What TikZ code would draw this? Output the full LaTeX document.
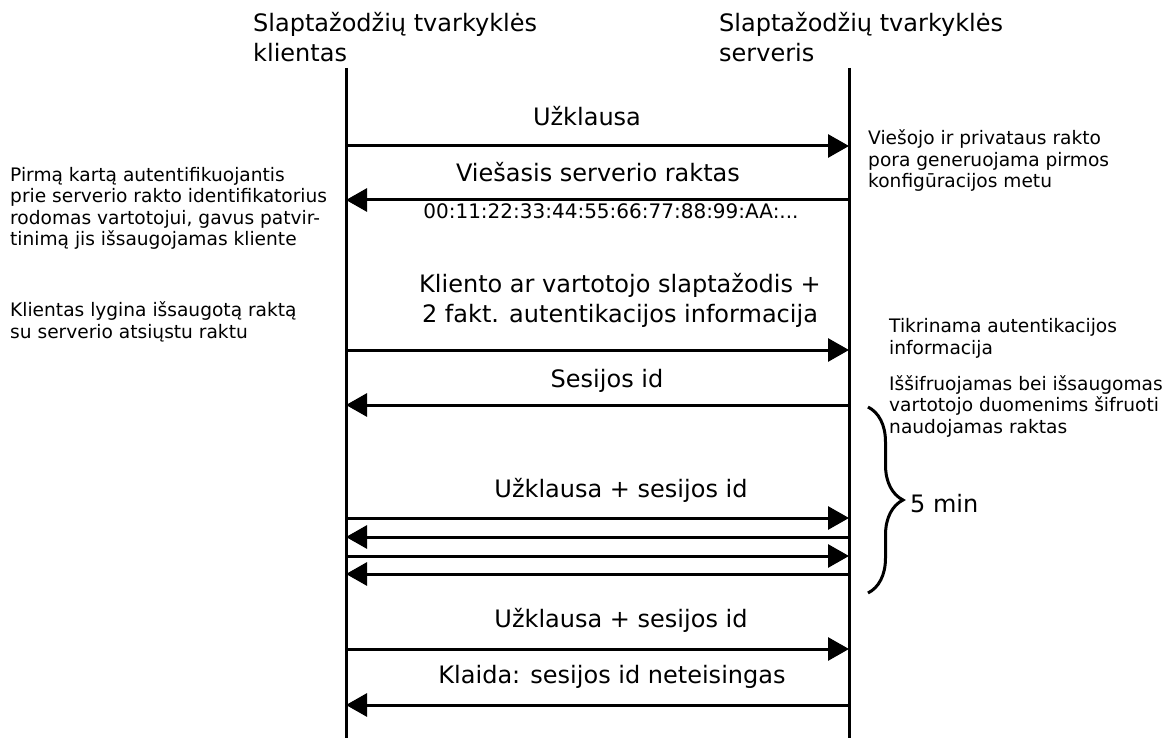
\documentclass[tikz,border=0pt]{standalone}
\usepackage{fontspec}
\setmainfont{DejaVu Sans}
\usepackage{tikz}
\usetikzlibrary{positioning}
\usetikzlibrary{arrows.meta,decorations.pathreplacing}

\begin{document}
\begin{tikzpicture}[x=1pt,y=-1pt,
    life/.style={line width=3pt},
    msg/.style={line width=3pt,-{Triangle[length=21pt,width=23pt]}},
    big/.style={font=\fontsize{24}{30}\selectfont,inner sep=0pt,anchor=base},
    note/.style={font=\fontsize{18.6}{21.5}\selectfont,inner sep=0pt,anchor=base west,align=left},
    hex/.style={font=\fontsize{20}{24}\selectfont,inner sep=0pt,anchor=base}]

    \useasboundingbox (0,0) rectangle (1176,738);

		% lifelines
		\node[big][anchor=base west,align=left](kl) at (253,62) {Slaptažodžių tvarkyklės\\klientas};
		\node[big][anchor=base west,align=left](sv) at (719,62) {Slaptažodžių tvarkyklės\\serveris};
		\coordinate (ktop) at (346,68);
		\coordinate (kbot) at (346,738);
		\coordinate (stop) at (849,68);
		\coordinate (sbot) at (849,738);
		\draw[life] (ktop) -- (kbot);
		\draw[life] (stop) -- (sbot);

		\foreach \i/\y in {1/146,2/200,3/350,4/405,5/518,6/537,7/556,8/574,9/649,10/705}{
			\coordinate (k\i) at (346,\y);
			\coordinate (s\i) at (849,\y);
		}

		% messages
		\draw[msg] (k1) -- (s1);
		\draw[msg] (s2) -- (k2);
		\draw[msg] (k3) -- (s3);
		\draw[msg] (s4) -- (k4);
		\draw[msg] (k5) -- (s5);
		\draw[msg] (s6) -- (k6);
		\draw[msg] (k7) -- (s7);
		\draw[msg] (s8) -- (k8);
		\draw[msg] (k9) -- (s9);
		\draw[msg] (s10) -- (k10);

		\node[big](m1) at (587,126) {Užklausa};
		\node[big](m2) at (598,182) {Viešasis serverio raktas};
		\node[hex](m2b) at (611,219) {00:11:22:33:44:55:66:77:88:99:AA:...};
		\node[big][align=center](m3) at (620,323) {Kliento ar vartotojo slaptažodis +\\2 fakt. autentikacijos informacija};
		\node[big](m4) at (607,387) {Sesijos id};
		\node[big](m5) at (621,497) {Užklausa + sesijos id};
		\node[big](m9) at (621,627) {Užklausa + sesijos id};
		\node[big](m10) at (612,683) {Klaida: sesijos id neteisingas};

		% notes
		\node[note](n1) at (10,246) {Pirmą kartą autentifikuojantis\\prie serverio rakto identifikatorius\\rodomas vartotojui, gavus patvir-\\tinimą jis išsaugojamas kliente};
		\node[note](n2) at (10,338) {Klientas lygina išsaugotą raktą\\su serverio atsiųstu raktu};
		\node[note](n3) at (868,188) {Viešojo ir privataus rakto\\pora generuojama pirmos\\konfigūracijos metu};
		\node[note](n4) at (889,354) {Tikrinama autentikacijos\\informacija};
		\node[note](n5) at (889,433) {Iššifruojamas bei išsaugomas\\vartotojo duomenims šifruoti\\naudojamas raktas};

		% 5 min
		\coordinate (b1) at (868,407);
		\coordinate (b2) at (868,593);
		\draw[line width=3pt,decorate,decoration={brace,amplitude=35pt}] (b1) -- (b2);
		\node[big][anchor=base west](t5) at (910,512) {5 min};

\end{tikzpicture}
\end{document}
